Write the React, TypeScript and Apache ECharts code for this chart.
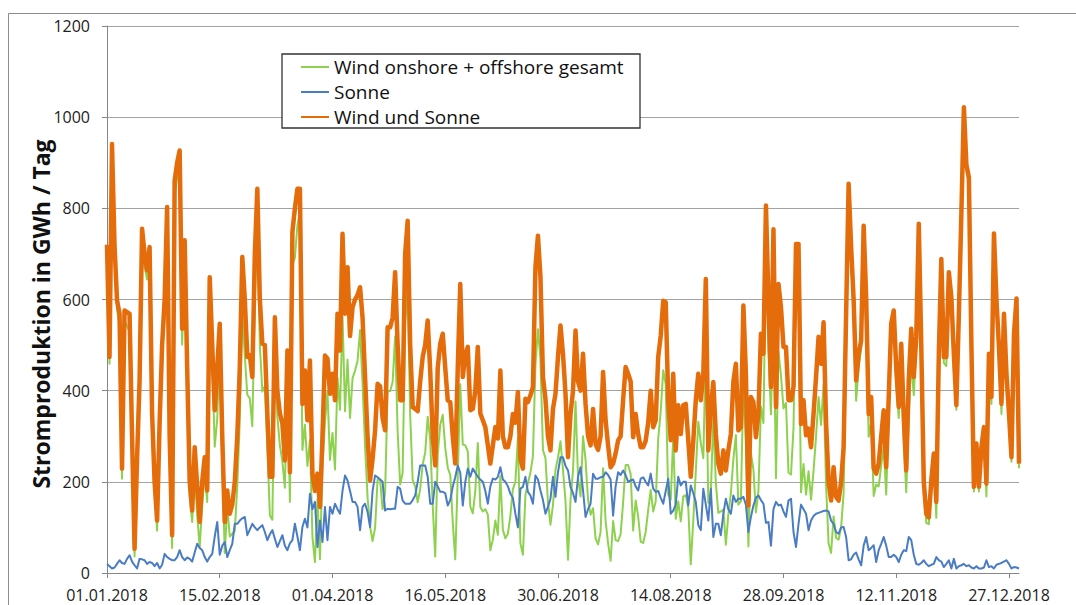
import React, { useEffect, useRef } from "react";
import * as echarts from "echarts";

// Daily values 2018 (GWh / Tag)
const wind: number[] = [
  700,459,931,708,578,541,207,556,541,530,275,36,240,391,725,672,644,691,328,185,93,320,482,558,768,269,55,833,865,877,501,702,416,169,112,231,126,57,150,219,156,614,458,277,338,507,240,44,146,80,86,
  92,192,335,573,477,391,383,322,600,749,500,398,410,278,126,117,486,343,280,245,187,438,156,676,692,763,793,270,325,235,292,78,24,161,30,232,332,398,248,307,227,429,358,564,355,468,340,427,444,465,533,415,
  278,166,102,70,99,205,205,140,176,398,399,419,519,311,194,220,548,621,348,204,190,155,184,238,264,343,292,148,36,260,325,347,275,231,215,111,30,214,414,282,280,267,146,131,180,285,145,135,140,128,50,73,115,
  84,212,95,76,86,126,184,200,297,65,40,171,197,220,256,457,535,469,270,252,155,106,149,226,253,289,226,158,29,160,225,376,209,168,300,248,160,128,142,76,63,90,230,114,65,27,114,72,70,85,155,237,237,
  217,93,159,124,69,66,90,138,182,135,157,294,355,445,414,172,161,300,119,157,113,168,171,143,19,115,223,332,285,252,495,154,175,340,197,132,135,139,62,129,175,250,303,150,157,420,287,58,263,227,133,180,365,
  329,696,488,348,614,208,486,433,361,373,220,216,318,665,614,177,239,172,223,161,224,300,386,325,414,193,65,44,124,77,73,100,175,490,826,685,560,378,450,493,702,526,299,331,169,194,190,236,278,172,351,512,
  536,415,340,463,292,177,344,464,390,498,748,474,172,110,107,185,242,121,453,664,461,454,632,595,449,358,554,771,1002,881,851,488,179,269,179,266,308,168,468,371,735,582,476,349,544,409,330,244,512,590,230,
];

const sun: number[] = [
  20,15,10,12,20,28,22,20,31,39,25,17,10,31,30,28,20,24,22,15,22,10,18,42,35,31,28,28,35,50,35,28,34,31,25,45,64,55,50,35,25,35,42,80,112,40,60,68,35,50,64,
  108,108,115,120,123,83,95,108,100,94,100,105,90,72,85,94,75,57,70,83,60,50,65,72,108,80,50,101,119,100,174,140,156,57,115,68,145,72,145,130,152,140,130,180,214,203,180,156,156,145,94,145,
  152,134,101,180,214,210,205,200,137,141,140,141,141,189,185,159,152,152,152,160,170,200,236,236,236,211,152,152,200,190,178,178,175,148,160,189,210,236,220,148,200,229,211,229,220,211,205,200,180,152,190,207,205,
  211,232,205,200,190,174,165,130,100,185,189,211,178,170,152,214,205,181,160,130,145,163,211,167,221,254,254,235,225,189,175,156,211,232,181,123,140,152,218,207,207,210,211,221,215,205,126,190,221,215,225,215,200,
  203,205,190,181,207,210,200,192,218,185,178,180,165,152,180,207,130,137,150,211,192,200,200,148,192,175,156,105,94,185,150,115,185,79,108,108,83,130,163,140,130,170,156,163,163,167,150,90,123,148,165,170,160,
  152,110,112,60,140,156,148,150,135,123,159,163,90,57,108,150,140,130,94,115,125,130,132,134,136,137,135,115,108,90,86,100,101,79,28,30,40,45,30,17,60,79,50,55,61,24,50,64,79,60,35,35,
  40,35,24,40,50,48,79,72,40,20,18,22,28,20,15,18,20,35,28,25,13,20,28,10,31,10,15,17,20,15,17,12,10,15,10,10,12,28,13,15,10,18,20,22,25,28,20,10,13,12,10,
];

// "Wind und Sonne" is the daily sum of the two series
const windAndSun: number[] = wind.map((w, i) => w + sun[i]);

const seriesNames = ["Wind onshore + offshore gesamt", "Sonne", "Wind und Sonne"];
const seriesColors = ["#8ed14f", "#4a7cc4", "#e46c0a"];
const seriesWidths = [2, 2, 4.5];
const yAxisTitle = "Stromproduktion in GWh / Tag";
const yMin = 0;
const yMax = 1200;
const yStep = 200;
const labelEvery = 45;

const pad = (n: number) => (n < 10 ? "0" + n : "" + n);
const dates: string[] = wind.map((_, i) => {
  const d = new Date(Date.UTC(2018, 0, 1) + i * 86400000);
  return pad(d.getUTCDate()) + "." + pad(d.getUTCMonth() + 1) + "." + d.getUTCFullYear();
});

const FONT = "'Open Sans', 'Noto Sans', sans-serif";

export default function App() {
  const ref = useRef<HTMLDivElement>(null);
  useEffect(() => {
    if (!ref.current) return;
    const chart = echarts.init(ref.current, null, { renderer: "svg" });
    const dataSets = [wind, sun, windAndSun];
    chart.setOption({
      animation: false,
      backgroundColor: "#ffffff",
      textStyle: { fontFamily: FONT },
      grid: { left: 107, top: 26, width: 912, height: 547, containLabel: false },
      xAxis: {
        type: "category",
        data: dates,
        boundaryGap: false,
        axisLine: { lineStyle: { color: "#868686", width: 1 } },
        axisTick: { show: true, interval: labelEvery - 1, length: 5, lineStyle: { color: "#868686" } },
        axisLabel: {
          interval: labelEvery - 1,
          margin: 14,
          fontSize: 16,
          lineHeight: 16,
          color: "#222222",
          fontFamily: FONT,
        },
        splitLine: { show: false },
      },
      yAxis: {
        type: "value",
        min: yMin,
        max: yMax,
        interval: yStep,
        axisLine: { show: true, lineStyle: { color: "#868686", width: 1 } },
        axisTick: { show: true, length: 5, lineStyle: { color: "#868686" } },
        axisLabel: {
          margin: 17,
          fontSize: 16,
          color: "#222222",
          fontFamily: FONT,
          formatter: (v: number) => String(v),
        },
        splitLine: { show: true, lineStyle: { color: "#a3a3a3", width: 1 } },
      },
      legend: {
        orient: "vertical",
        left: 300,
        top: 57,
        padding: 0,
        itemGap: 5,
        itemWidth: 28,
        itemHeight: 14,
        selectedMode: false,
        z: 20,
        itemStyle: { color: "rgba(0,0,0,0)", borderWidth: 0, opacity: 0 },
        textStyle: { fontSize: 19, color: "#111111", fontFamily: FONT, lineHeight: 20 },
        data: seriesNames,
      },
      graphic: [
        {
          type: "rect",
          silent: true,
          z: 0,
          shape: { x: 8.5, y: 13.5, width: 1400, height: 900 },
          style: { fill: "none", stroke: "#8c8c8c", lineWidth: 1 },
        },
        {
          type: "rect",
          silent: true,
          z: 10,
          shape: { x: 282, y: 54, width: 358, height: 74 },
          style: { fill: "#ffffff", stroke: "#333333", lineWidth: 1.3 },
        },
        {
          type: "text",
          silent: true,
          z: 10,
          x: 41,
          y: 314,
          rotation: Math.PI / 2,
          style: {
            text: yAxisTitle,
            font: "bold 23px 'Open Sans', 'Noto Sans', sans-serif",
            fill: "#111111",
            textAlign: "center",
            textVerticalAlign: "middle",
          },
        },
      ],
      series: seriesNames.map((name, k) => ({
        name,
        type: "line",
        data: dataSets[k],
        symbol: "none",
        showSymbol: false,
        smooth: false,
        z: 2 + k,
        lineStyle: { color: seriesColors[k], width: seriesWidths[k], join: "round" },
        itemStyle: { color: seriesColors[k] },
      })),
    });
    return () => chart.dispose();
  }, []);
  return (
    <div
      ref={ref}
      style={{ position: "fixed", left: 0, top: 0, width: 1076, height: 605, background: "#ffffff" }}
    />
  );
}
